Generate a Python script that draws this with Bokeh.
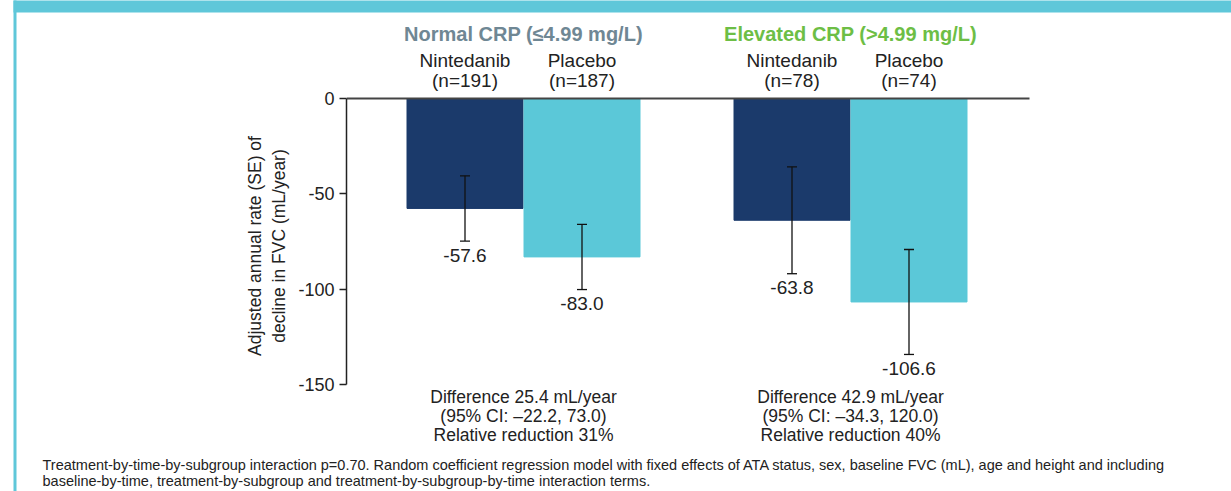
from bokeh.plotting import figure
from bokeh.models import Range1d, FixedTicker, ColumnDataSource, Whisker, TeeHead
from bokeh.core.properties import value
from bokeh.embed import file_html
from bokeh.resources import INLINE

# ---------------- data ----------------
groups = ["Normal CRP (\u22644.99 mg/L)", "Elevated CRP (>4.99 mg/L)"]
treatments = ["Nintedanib", "Placebo"]
n_normal = [191, 187]
n_elevated = [78, 74]
rate_normal = [-57.6, -83.0]
rate_elevated = [-63.8, -106.6]
se_normal = [17.1, 17.1]
se_elevated = [28.0, 27.5]
diff_text = [
    ["Difference 25.4 mL/year", "(95% CI: \u201322.2, 73.0)", "Relative reduction 31%"],
    ["Difference 42.9 mL/year", "(95% CI: \u201334.3, 120.0)", "Relative reduction 40%"],
]
y_ticks = [0, -50, -100, -150]
y_label = "Adjusted annual rate (SE) of\ndecline in FVC (mL/year)"
footnote = [
    "Treatment-by-time-by-subgroup interaction p=0.70. Random coefficient regression model with fixed effects of ATA status, sex, baseline FVC (mL), age and height and including",
    "baseline-by-time, treatment-by-subgroup and treatment-by-subgroup-by-time interaction terms.",
]

# ---------------- styles / layout ----------------
FONT = "Liberation Sans"
NAVY = "#1B3A6B"
CYAN = "#5BC8D8"
BAND = "#5FC7D9"
TXT = "#222222"
HEAD_COLORS = ["#6F8794", "#6DBE45"]

W, H = 1231, 491
LEFT = 346
PX_Y = 286.3 / 150.0       # pixels per unit on y
Y0_FIG = 98                # pixel row of value 0
PX_X = 327.0               # pixels per group unit on x
G1_FIG = 523               # pixel column of first group centre

y_top = Y0_FIG / PX_Y
y_bot = -(H - Y0_FIG) / PX_Y
x_start = 1 - (G1_FIG - LEFT) / PX_X
x_end = 1 + (W - G1_FIG) / PX_X

def fx(px):   # pixel column -> x data
    return 1 + (px - G1_FIG) / PX_X

def fy(py):   # pixel row -> y data
    return -(py - Y0_FIG) / PX_Y

p = figure(width=W, height=H, output_backend="svg", toolbar_location=None,
           x_range=Range1d(x_start, x_end), y_range=Range1d(y_bot, y_top),
           min_border_left=LEFT, min_border_right=0, min_border_top=0, min_border_bottom=0,
           x_axis_location=None, y_axis_location="left")
p.outline_line_color = None
p.grid.visible = False
p.background_fill_color = "white"
p.border_fill_color = "white"

ax = p.yaxis[0]
ax.bounds = (min(y_ticks), max(y_ticks))
ax.ticker = FixedTicker(ticks=y_ticks)
ax.major_label_overrides = {t: str(t) for t in y_ticks}
ax.major_tick_out = 7
ax.major_tick_in = 0
ax.minor_tick_out = 0
ax.minor_tick_in = 0
ax.axis_line_color = "#222222"
ax.axis_line_width = 1.5
ax.major_tick_line_color = "#222222"
ax.major_tick_line_width = 1.5
ax.major_label_text_font = FONT
ax.major_label_text_font_size = "18px"
ax.major_label_text_color = TXT
ax.major_label_standoff = 5
ax.axis_label = y_label
ax.axis_label_text_font = FONT
ax.axis_label_text_font_size = "17.5px"
ax.axis_label_text_font_style = "normal"
ax.axis_label_text_color = TXT
ax.axis_label_standoff = 6

# bars
OFF = 117.0 / 2 / PX_X
BW = 116.0 / PX_X
xs, tops, ses, cols, labels = [], [], [], [], []
for gi, (rates, se) in enumerate([(rate_normal, se_normal), (rate_elevated, se_elevated)]):
    for ti in range(2):
        xs.append(gi + 1 + (-OFF if ti == 0 else OFF))
        tops.append(rates[ti])
        ses.append(se[ti])
        cols.append(NAVY if ti == 0 else CYAN)
        labels.append(f"{rates[ti]:.1f}")
src = ColumnDataSource(dict(x=xs, top=tops, color=cols, lower=[t - s for t, s in zip(tops, ses)],
                            upper=[t + s for t, s in zip(tops, ses)], label=labels))
p.vbar(x="x", top="top", bottom=0, width=BW, color="color", source=src)

wh = Whisker(base="x", lower="lower", upper="upper", source=src, line_color="#111111", line_width=1.3,
             upper_head=TeeHead(size=10, line_color="#111111", line_width=1.3),
             lower_head=TeeHead(size=10, line_color="#111111", line_width=1.3),
             level="overlay")
p.add_layout(wh)

p.text(x="x", y="lower", text="label", source=src, text_font=value(FONT), text_font_size="19px",
       text_color=TXT, text_align="center", text_baseline="middle", y_offset=14)

# zero line
p.segment(x0=[x_start], y0=[0], x1=[fx(1029)], y1=[0], line_color="#444444", line_width=2)

# headers
p.text(x=[1, 2], y=[fy(33)] * 2, text=groups, text_color=HEAD_COLORS, text_font=value(FONT),
       text_font_size="20px", text_font_style="bold", text_align="center", text_baseline="middle")
ns = [n_normal, n_elevated]
tx, ty, tt = [], [], []
for gi in range(2):
    for ti in range(2):
        x = gi + 1 + (-OFF if ti == 0 else OFF)
        tx += [x, x]
        ty += [fy(60), fy(80)]
        tt += [treatments[ti], f"(n={ns[gi][ti]})"]
p.text(x=tx, y=ty, text=tt, text_color=TXT, text_font=value(FONT), text_font_size="19px",
       text_align="center", text_baseline="middle")

# difference texts
dx, dy, dt = [], [], []
for gi in range(2):
    for li, line in enumerate(diff_text[gi]):
        dx.append(gi + 1)
        dy.append(fy(396 + 19 * li))
        dt.append(line)
p.text(x=dx, y=dy, text=dt, text_color=TXT, text_font=value(FONT), text_font_size="17.5px",
       text_align="center", text_baseline="middle")

# footnote (outside the frame -> overlay level so it is not clipped)
fn = p.text(x=[fx(42)] * 2, y=[fy(464), fy(480)], text=footnote, text_font=value(FONT),
            text_font_size="14.5px", text_color=TXT, text_baseline="middle", text_align="left")
fn.level = "overlay"

# decorative frame bands
band_top = p.quad(left=[fx(13)], right=[fx(W)], top=[fy(0)], bottom=[fy(12)], color=BAND, line_color=None)
band_left = p.quad(left=[fx(13)], right=[fx(16)], top=[fy(0)], bottom=[fy(H)], color=BAND, line_color=None)
band_top.level = "overlay"
band_left.level = "overlay"

open("out.html", "w").write(file_html(p, INLINE))
